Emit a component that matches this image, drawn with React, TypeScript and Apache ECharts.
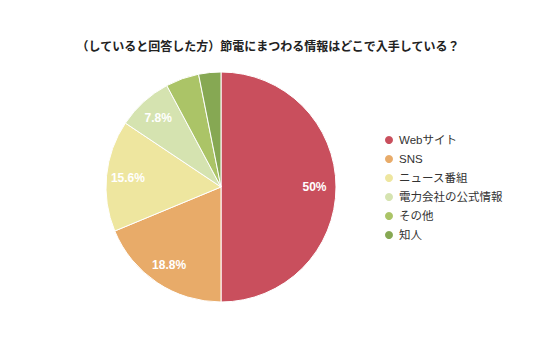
import React, { useEffect, useRef } from "react";
import * as echarts from "echarts";

const title = "（していると回答した方）節電にまつわる情報はどこで入手している？";
const categories = ["Webサイト", "SNS", "ニュース番組", "電力会社の公式情報", "その他", "知人"];
const counts = [32, 12, 10, 5, 3, 2];
const colors = ["#c94f5d", "#e8ab69", "#eee69f", "#d5e3b0", "#abc467", "#86a853"];

export default function App() {
  const ref = useRef<HTMLDivElement>(null);
  useEffect(() => {
    document.body.style.margin = "0";
    const chart = echarts.init(ref.current!, undefined, { renderer: "svg" });
    const total = counts.reduce((a, b) => a + b, 0);
    const data = categories.map((name, i) => ({ name, value: counts[i] }));
    const fmt = (p: any) => {
      const pct = (p.value / total) * 100;
      if (pct < 6) return "";
      return `${parseFloat(pct.toFixed(1))}%`;
    };
    chart.setOption({
      animation: false,
      color: colors,
      title: {
        text: title,
        left: "center",
        top: 36,
        textStyle: { fontSize: 12, fontWeight: "bold", color: "#222", fontFamily: "Liberation Sans, Noto Sans CJK JP" },
      },
      legend: {
        orient: "vertical",
        left: 378,
        top: 129,
        icon: "circle",
        itemWidth: 10,
        itemHeight: 10,
        itemGap: 7,
        textStyle: { fontSize: 11.5, color: "#333", fontFamily: "Liberation Sans, Noto Sans CJK JP" },
        data: categories,
      },
      series: [
        {
          type: "pie",
          center: [221, 187],
          radius: [0, 115],
          startAngle: 90,
          clockwise: true,
          label: { show: false },
          labelLine: { show: false },
          itemStyle: { borderColor: "#fff", borderWidth: 1 },
          emphasis: { disabled: true },
          data,
        },
        {
          type: "pie",
          center: [221, 187],
          radius: [66, 115],
          startAngle: 90,
          clockwise: true,
          silent: true,
          legendHoverLink: false,
          itemStyle: { color: "rgba(0,0,0,0)" },
          label: {
            show: true,
            position: "inside",
            formatter: fmt,
            color: "#fff",
            fontSize: 12,
            fontWeight: "bold",
            fontFamily: "Liberation Sans",
          },
          labelLine: { show: false },
          emphasis: { disabled: true },
          data: categories.map((name, i) => ({ name: name + " ", value: counts[i] })),
        },
      ],
    });
    return () => chart.dispose();
  }, []);
  return <div ref={ref} style={{ width: 536, height: 357 }} />;
}
